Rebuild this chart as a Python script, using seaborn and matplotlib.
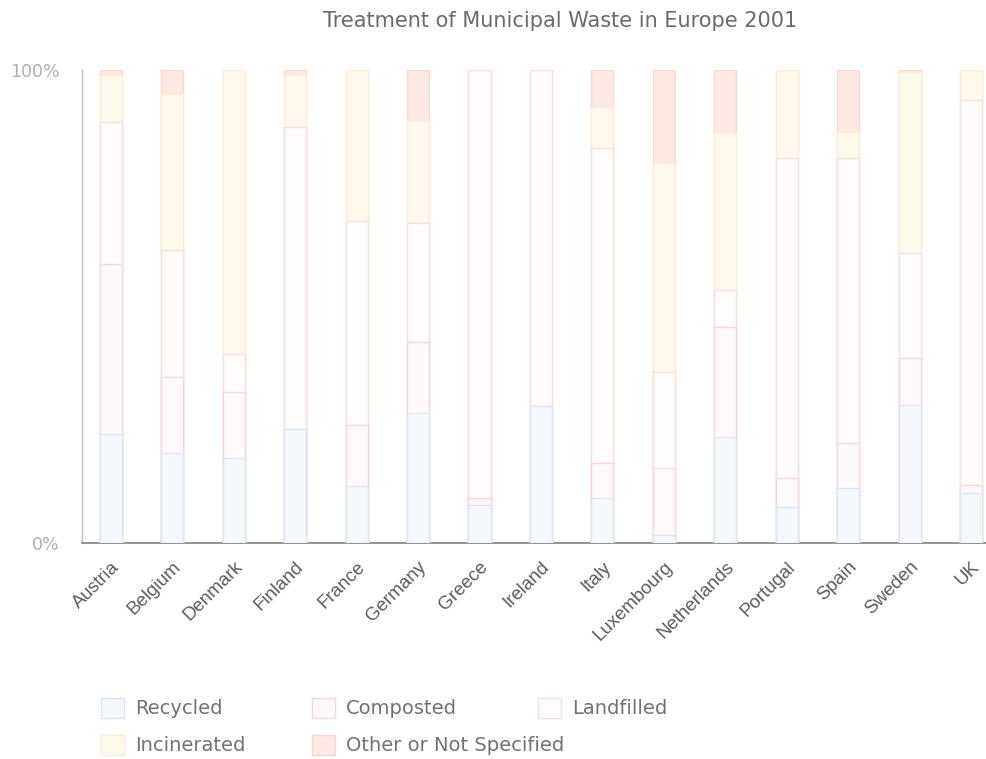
import numpy as np
import pandas as pd
import seaborn as sns
import matplotlib.pyplot as plt
from matplotlib.patches import Patch

countries = ["Austria", "Belgium", "Denmark", "Finland", "France", "Germany", "Greece",
             "Ireland", "Italy", "Luxembourg", "Netherlands", "Portugal", "Spain", "Sweden", "UK"]
recycled    = [23.0, 19.0, 18.0, 24.0, 12.0, 27.5, 8.0, 29.0, 9.5, 1.7, 22.4, 7.6, 11.6, 29.2, 10.6]
composted   = [36.0, 16.0, 14.0, 0.0, 13.0, 15.0, 1.5, 0.0, 7.5, 14.2, 23.3, 6.1, 9.5, 9.9, 1.7]
landfilled  = [30.0, 27.0, 8.0, 64.0, 43.0, 25.2, 90.5, 71.0, 66.5, 20.3, 7.8, 67.7, 60.3, 22.2, 81.4]
incinerated = [10.0, 33.0, 60.0, 11.0, 32.0, 21.7, 0.0, 0.0, 8.7, 44.0, 33.2, 18.6, 5.5, 38.3, 6.3]
other       = [1.0, 5.0, 0.0, 1.0, 0.0, 10.6, 0.0, 0.0, 7.8, 19.7, 13.3, 0.0, 13.1, 0.4, 0.0]

series_names = ["Recycled", "Composted", "Landfilled", "Incinerated", "Other or Not Specified"]
series_vals = [recycled, composted, landfilled, incinerated, other]
fills = ["#f5f8fd", "#fefafb", "#fffcfc", "#fff9ee", "#fce9e3"]
edges = ["#dde6f5", "#f6d8de", "#f8e0e0", "#fdeed3", "#f7d9cf"]

df = pd.DataFrame({"country": countries})
vals = np.array(series_vals, dtype=float)
vals = vals / vals.sum(axis=0) * 100.0
cum = np.cumsum(vals, axis=0)

plt.rcParams['font.family'] = ['Liberation Sans', 'DejaVu Sans']
fig = plt.figure(figsize=(9.87, 7.59), dpi=100)
ax = fig.add_axes([82/987, (759-543)/759, (987-82)/987, (543-70)/759])

for i in reversed(range(len(series_names))):
    df["cum"] = cum[i]
    sns.barplot(data=df, x="country", y="cum", order=countries, color=fills[i],
                saturation=1, width=0.36, edgecolor=edges[i], linewidth=1.0,
                ax=ax, zorder=3)

ax.set_xlim(-0.47, 14.26)
ax.set_ylim(0, 100)
ax.set_xlabel("")
ax.set_ylabel("")
ax.set_yticks([0, 100])
ax.set_yticklabels(["0%", "100%"], color="#b0b0b0", fontsize=12.5, family="DejaVu Sans")
ax.tick_params(axis="both", length=0)
ax.tick_params(axis="y", pad=16)
ax.set_xticks(range(len(countries)))
ax.set_xticklabels(countries, rotation=45, ha="right", rotation_mode="anchor",
                   color="#5c5c5c", fontsize=13.5)
ax.tick_params(axis="x", pad=11)
for s in ["top", "right"]:
    ax.spines[s].set_visible(False)
ax.spines["left"].set_color("#c4c4c4")
ax.spines["bottom"].set_color("#8a8a8a")
ax.spines["left"].set_linewidth(1.0)
ax.spines["bottom"].set_linewidth(1.3)
ax.set_facecolor("white")

fig.text(0.567, 0.972, "Treatment of Municipal Waste in Europe 2001", ha="center", va="center",
         color="#6a6a6a", fontsize=15, family="DejaVu Sans")

# legend entries laid out row-wise as in the reference
pos = [(101, 708), (312, 708), (538, 708), (101, 745), (312, 745)]
for i, (px, py) in enumerate(pos):
    h = Patch(facecolor=fills[i], edgecolor=edges[i], linewidth=1.0)
    leg = fig.legend([h], [series_names[i]], loc="center left",
                     bbox_to_anchor=(px/987, 1 - py/759), frameon=False,
                     borderpad=0, borderaxespad=0,
                     prop={"family": "DejaVu Sans", "size": 14},
                     handlelength=1.2, handleheight=1.2, handletextpad=0.55)
    for t in leg.get_texts():
        t.set_color("#727272")

fig.savefig("out.png", dpi=100, facecolor="white")
